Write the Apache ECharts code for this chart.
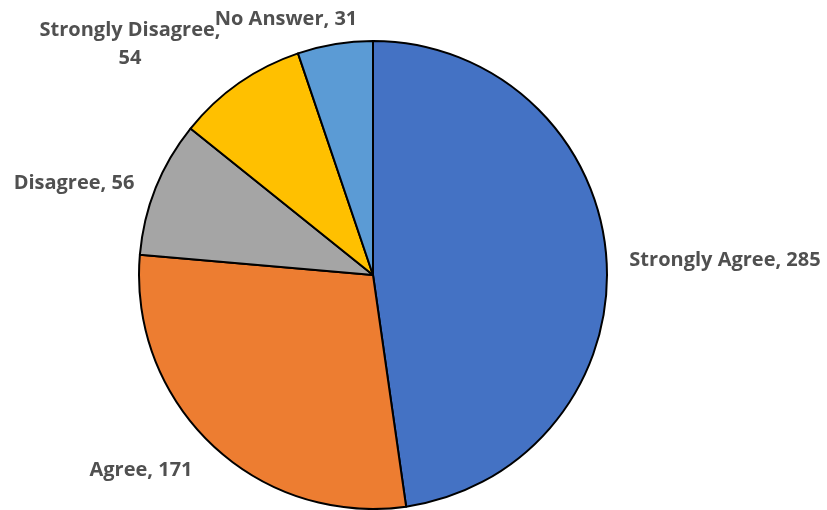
<!DOCTYPE html>
<html>
<head>
<meta charset="utf-8">
<script src="https://cdn.jsdelivr.net/npm/echarts@6/dist/echarts.min.js"></script>
<style>
  html, body { margin: 0; padding: 0; background: #fff; }
  #chart { width: 827px; height: 510px; }
</style>
</head>
<body>
<div id="chart"></div>
<script>
// Survey responses
const categories = ['Strongly Agree', 'Agree', 'Disagree', 'Strongly Disagree', 'No Answer'];
const counts = [285, 171, 56, 54, 31];
const sliceColors = ['#4472C4', '#ED7D31', '#A5A5A5', '#FFC000', '#5B9BD5'];

// Label anchor points (centre of each label block), in pixels
const labelAnchors = [
  [725, 260],
  [141, 470],
  [74, 183],
  [130, 44],
  [286, 19]
];

const chart = echarts.init(document.getElementById('chart'), null, { renderer: 'canvas' });

chart.setOption({
  animation: false,
  backgroundColor: '#ffffff',
  series: [{
    type: 'pie',
    center: [373, 275],
    radius: 234,
    startAngle: 90,
    clockwise: true,
    avoidLabelOverlap: false,
    data: categories.map((name, i) => ({
      name: name,
      value: counts[i],
      itemStyle: { color: sliceColors[i] }
    })),
    itemStyle: { borderColor: '#000000', borderWidth: 2 },
    label: {
      show: true,
      position: 'outside',
      formatter: (p) => p.dataIndex === 3 ? p.name + ',\n' + p.value : p.name + ', ' + p.value,
      fontFamily: '"Open Sans", sans-serif',
      fontWeight: 'bold',
      fontSize: 20,
      lineHeight: 28,
      color: '#505050',
      align: 'center'
    },
    labelLine: { show: false },
    labelLayout: (params) => ({
      x: labelAnchors[params.dataIndex][0],
      y: labelAnchors[params.dataIndex][1],
      align: 'center',
      verticalAlign: 'middle'
    }),
    emphasis: { disabled: true }
  }]
});
</script>
</body>
</html>
